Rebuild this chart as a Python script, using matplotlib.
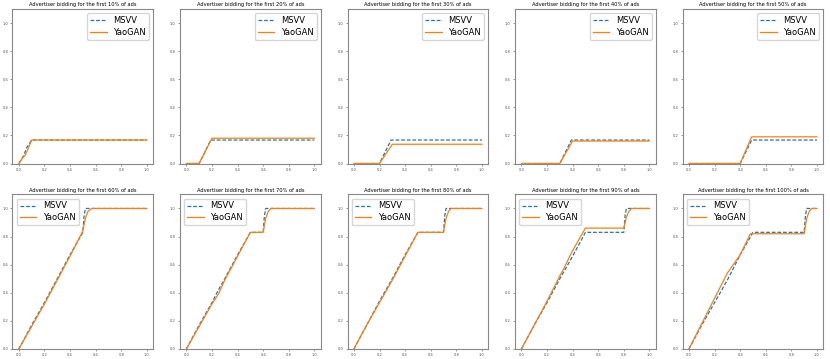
"""Advertiser bidding curves: MSVV vs YaoGAN."""

import matplotlib

matplotlib.use("Agg")
import matplotlib.pyplot as plt

panel_pct = [10, 20, 30, 40, 50, 60, 70, 80, 90, 100]

msvv_x = [
    [0.0, 0.02, 0.04, 0.06, 0.1, 1.0],
    [0.0, 0.1, 0.19, 1.0],
    [0.0, 0.2, 0.29, 1.0],
    [0.0, 0.3, 0.39, 1.0],
    [0.0, 0.4, 0.49, 1.0],
    [0.0, 0.1, 0.2, 0.3, 0.4, 0.5, 0.51, 0.52, 1.0],
    [0.0, 0.1, 0.2, 0.25, 0.3, 0.4, 0.5, 0.6, 0.61, 0.62, 1.0],
    [0.0, 0.1, 0.2, 0.3, 0.4, 0.5, 0.7, 0.71, 0.72, 1.0],
    [0.0, 0.1, 0.2, 0.3, 0.4, 0.5, 0.8, 0.81, 0.82, 1.0],
    [0.0, 0.1, 0.2, 0.3, 0.4, 0.5, 0.9, 0.91, 0.92, 1.0],
]
msvv_y = [
    [0.0, 0.03, 0.06, 0.11, 0.167, 0.167],
    [0.0, 0.0, 0.167, 0.167],
    [0.0, 0.0, 0.167, 0.167],
    [0.0, 0.0, 0.167, 0.167],
    [0.0, 0.0, 0.167, 0.167],
    [0.0, 0.17, 0.33, 0.5, 0.67, 0.83, 0.95, 1.0, 1.0],
    [0.0, 0.17, 0.33, 0.42, 0.5, 0.67, 0.83, 0.83, 0.95, 1.0, 1.0],
    [0.0, 0.17, 0.34, 0.5, 0.67, 0.83, 0.83, 0.95, 1.0, 1.0],
    [0.0, 0.17, 0.33, 0.5, 0.66, 0.83, 0.83, 0.95, 1.0, 1.0],
    [0.0, 0.17, 0.33, 0.49, 0.67, 0.83, 0.83, 0.95, 1.0, 1.0],
]

yao_x = [
    [0.0, 0.03, 0.05, 0.07, 0.1, 1.0],
    [0.0, 0.1, 0.2, 1.0],
    [0.0, 0.2, 0.3, 1.0],
    [0.0, 0.3, 0.4, 1.0],
    [0.0, 0.4, 0.49, 1.0],
    [0.0, 0.1, 0.2, 0.3, 0.4, 0.5, 0.52, 0.54, 0.57, 1.0],
    [0.0, 0.1, 0.2, 0.25, 0.3, 0.4, 0.5, 0.6, 0.62, 0.64, 0.66, 1.0],
    [0.0, 0.1, 0.2, 0.3, 0.4, 0.5, 0.7, 0.72, 0.74, 0.76, 1.0],
    [0.0, 0.1, 0.2, 0.3, 0.33, 0.4, 0.5, 0.8, 0.82, 0.84, 0.86, 1.0],
    [0.0, 0.1, 0.2, 0.3, 0.4, 0.48, 0.9, 0.92, 0.94, 0.96, 1.0],
]
yao_y = [
    [0.0, 0.04, 0.06, 0.1, 0.167, 0.167],
    [0.0, 0.0, 0.18, 0.18],
    [0.0, 0.0, 0.137, 0.137],
    [0.0, 0.0, 0.16, 0.16],
    [0.0, 0.0, 0.19, 0.19],
    [0.0, 0.16, 0.32, 0.49, 0.66, 0.84, 0.93, 0.98, 1.0, 1.0],
    [0.0, 0.16, 0.32, 0.39, 0.49, 0.66, 0.83, 0.83, 0.93, 0.98, 1.0, 1.0],
    [0.0, 0.17, 0.33, 0.49, 0.66, 0.83, 0.83, 0.93, 0.98, 1.0, 1.0],
    [0.0, 0.17, 0.34, 0.52, 0.57, 0.7, 0.86, 0.86, 0.94, 0.98, 1.0, 1.0],
    [0.0, 0.18, 0.36, 0.54, 0.67, 0.82, 0.82, 0.93, 0.98, 1.0, 1.0],
]

fig, axes = plt.subplots(2, 5, figsize=(8.3, 3.59), dpi=100)
fig.subplots_adjust(left=0.015, right=0.992, bottom=0.028, top=0.975,
                    wspace=0.19, hspace=0.2)

for i, ax in enumerate(axes.flat):
    ax.plot(msvv_x[i], msvv_y[i], "--", color="tab:blue", lw=0.9,
            dashes=(3, 1.5), label="MSVV")
    ax.plot(yao_x[i], yao_y[i], "-", color="tab:orange", lw=0.9, label="YaoGAN")
    ax.set_ylim(0, 1.1)
    ax.set_title(f"Advertiser bidding for the first {panel_pct[i]}% of ads",
                 fontsize=3.7, pad=2)
    ax.set_xticks([0.0, 0.2, 0.4, 0.6, 0.8, 1.0])
    ax.set_yticks([0.0, 0.2, 0.4, 0.6, 0.8, 1.0])
    ax.tick_params(labelsize=2.6, length=1.5, width=0.4, pad=1.5,
                   colors="#555555")
    for sp in ax.spines.values():
        sp.set_color("#888888")
        sp.set_linewidth(0.8)
    ax.legend(loc="upper right" if i < 5 else "upper left", fontsize=6,
              handlelength=2.0, borderpad=0.35, labelspacing=0.35)

plt.savefig("out.png", dpi=100)
plt.close()
